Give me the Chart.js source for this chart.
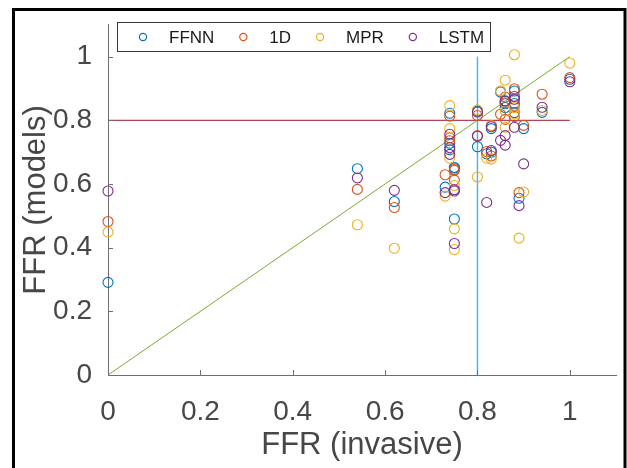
<!DOCTYPE html>
<html>
<head>
<meta charset="utf-8">
<script src="https://cdn.jsdelivr.net/npm/chart.js@4.4.0/dist/chart.umd.min.js"></script>
<style>
  html, body { margin: 0; padding: 0; background: #fff; }
</style>
</head>
<body>
<canvas id="myChart" width="627" height="468"></canvas>
<script>
// FFR measured invasively, one entry per vessel
const ffrInvasive = [0.00, 0.54, 0.62, 0.74, 0.74, 0.74, 0.73, 0.75, 0.75, 0.75,
                     0.80, 0.80, 0.82, 0.83, 0.83, 0.85, 0.86, 0.86, 0.86, 0.88,
                     0.88, 0.88, 0.90, 0.89, 0.94, 1.00];
// FFR predicted by each model, same order
const ffnn = [0.291, 0.648, 0.545, 0.822, 0.728, 0.707, 0.590, 0.650, 0.490, 0.652,
              0.829, 0.717, 0.695, 0.700, 0.774, 0.889, 0.852, 0.840, 0.860, 0.892,
              0.853, 0.824, 0.774, 0.555, 0.825, 0.929];
const oneD = [0.482, 0.583, 0.526, 0.813, 0.745, 0.736, 0.629, 0.612, 0.643, 0.645,
              0.815, 0.752, 0.702, 0.688, 0.783, 0.819, 0.873, 0.803, 0.855, 0.899,
              0.812, 0.845, 0.784, 0.573, 0.882, 0.934];
const mpr = [0.449, 0.472, 0.398, 0.846, 0.774, 0.681, 0.562, 0.595, 0.459, 0.394,
             0.833, 0.622, 0.681, 0.678, 0.783, 0.893, 0.926, 0.830, 0.778, 1.006,
             0.840, 0.820, 0.575, 0.430, 0.831, 0.980];
const lstm = [0.578, 0.619, 0.580, 0.756, 0.714, 0.693, 0.573, 0.582, 0.413, 0.578,
              0.826, 0.750, 0.542, 0.705, 0.780, 0.737, 0.861, 0.752, 0.722, 0.866,
              0.778, 0.875, 0.663, 0.532, 0.841, 0.921];

const seriesNames = ['FFNN', '1D', 'MPR', 'LSTM'];
const seriesValues = [ffnn, oneD, mpr, lstm];
const seriesColors = ['#0072BD', '#D95319', '#EDB120', '#7E2F8E'];
const tickValues = [0, 0.2, 0.4, 0.6, 0.8, 1];
const cutoff = 0.8;

const textColor = '#474747';
const axisColor = '#6f6f6f';

const toPoints = (ys) => ys.map((y, i) => ({ x: ffrInvasive[i], y: y }));

const datasets = seriesNames.map((name, k) => ({
  type: 'scatter',
  label: name,
  data: toPoints(seriesValues[k]),
  borderColor: seriesColors[k],
  backgroundColor: 'rgba(0,0,0,0)',
  pointStyle: 'circle',
  pointRadius: 5,
  pointBorderWidth: 1.1,
  clip: false,
  order: seriesNames.length - k
}));

// guide lines: identity, cutoff on both axes
const guide = (label, pts, color, width) => ({
  type: 'line', label: label, isGuide: true, data: pts,
  borderColor: color, backgroundColor: color, borderWidth: width,
  pointRadius: 0, showLine: true, fill: false, order: 10
});
datasets.push(guide('identity', [{ x: 0, y: 0 }, { x: 1, y: 1 }], '#77AC30', 1));
datasets.push(guide('cutoff y', [{ x: 0, y: cutoff }, { x: 1, y: cutoff }], '#A2142F', 1));
datasets.push(guide('cutoff x', [{ x: cutoff, y: 0 }, { x: cutoff, y: 1 }], '#36B8F0', 1.4));

const frameAndLegend = {
  id: 'frameAndLegend',
  beforeDraw(chart) {
    const ctx = chart.ctx;
    ctx.save();
    ctx.fillStyle = '#fff';
    ctx.fillRect(0, 0, chart.width, chart.height);
    ctx.restore();
  },
  afterDraw(chart) {
    const ctx = chart.ctx;
    const xs = chart.scales.x, ys = chart.scales.y;
    ctx.save();

    // inward tick marks
    ctx.strokeStyle = axisColor;
    ctx.lineWidth = 1;
    ctx.beginPath();
    tickValues.forEach(v => {
      const px = Math.round(xs.getPixelForValue(v)) + 0.5;
      ctx.moveTo(px, ys.bottom);
      ctx.lineTo(px, ys.bottom - 5);
      const py = Math.round(ys.getPixelForValue(v)) + 0.5;
      ctx.moveTo(xs.left, py);
      ctx.lineTo(xs.left + 5, py);
    });
    ctx.stroke();

    // legend box
    const boxL = 117, boxT = 22, boxW = 373, boxH = 29;
    ctx.fillStyle = '#fff';
    ctx.fillRect(boxL, boxT, boxW, boxH);
    ctx.strokeStyle = '#3a3a3a';
    ctx.strokeRect(boxL + 0.5, boxT + 0.5, boxW, boxH);
    ctx.font = '17px "Liberation Sans", Arial, sans-serif';
    ctx.textBaseline = 'middle';
    ctx.fillStyle = '#1a1a1a';
    let x = boxL + 26;
    const cy = boxT + boxH / 2 + 0.5;
    chart.data.datasets.filter(d => !d.isGuide).forEach(d => {
      ctx.strokeStyle = d.borderColor;
      ctx.lineWidth = 1.2;
      ctx.beginPath();
      ctx.arc(x, cy, 3.6, 0, Math.PI * 2);
      ctx.stroke();
      ctx.fillText(d.label, x + 26, cy + 1);
      x += 26 + ctx.measureText(d.label).width + 29;
    });

    // outer black frame
    ctx.strokeStyle = '#000';
    ctx.lineWidth = 3;
    ctx.beginPath();
    ctx.moveTo(13.5, chart.height + 5);
    ctx.lineTo(13.5, 9.5);
    ctx.lineTo(625, 9.5);
    ctx.lineTo(625, chart.height + 5);
    ctx.stroke();
    ctx.restore();
  }
};

const tickFont = { family: '"Liberation Sans", Arial, sans-serif', size: 28 };
const titleFont = { family: '"Liberation Sans", Arial, sans-serif', size: 31 };

new Chart(document.getElementById('myChart').getContext('2d'), {
  type: 'scatter',
  data: { datasets: datasets },
  options: {
    responsive: false,
    animation: false,
    layout: { padding: { top: 20, right: 11, left: 0, bottom: 0 } },
    plugins: { legend: { display: false }, tooltip: { enabled: false } },
    scales: {
      x: {
        type: 'linear', min: 0, max: 1.1,
        afterBuildTicks: (axis) => { axis.ticks = tickValues.map(v => ({ value: v })); },
        afterFit: (scale) => { scale.height = 93; },
        grid: { display: false },
        border: { display: true, color: axisColor, width: 1 },
        ticks: { font: tickFont, color: textColor, padding: 12, maxRotation: 0,
                 callback: (v) => String(v) },
        title: { display: true, text: 'FFR (invasive)', font: titleFont, color: textColor,
                 padding: { top: 0, bottom: 4 } }
      },
      y: {
        type: 'linear', min: 0, max: 1.1,
        afterBuildTicks: (axis) => { axis.ticks = tickValues.map(v => ({ value: v })); },
        afterFit: (scale) => { scale.width = 108; },
        grid: { display: false },
        border: { display: true, color: axisColor, width: 1 },
        ticks: { font: tickFont, color: textColor, padding: 8,
                 callback: (v) => String(v) },
        title: { display: true, text: 'FFR (models)', font: titleFont, color: textColor,
                 padding: { top: 18, bottom: 0 } }
      }
    }
  },
  plugins: [frameAndLegend]
});
</script>
</body>
</html>
